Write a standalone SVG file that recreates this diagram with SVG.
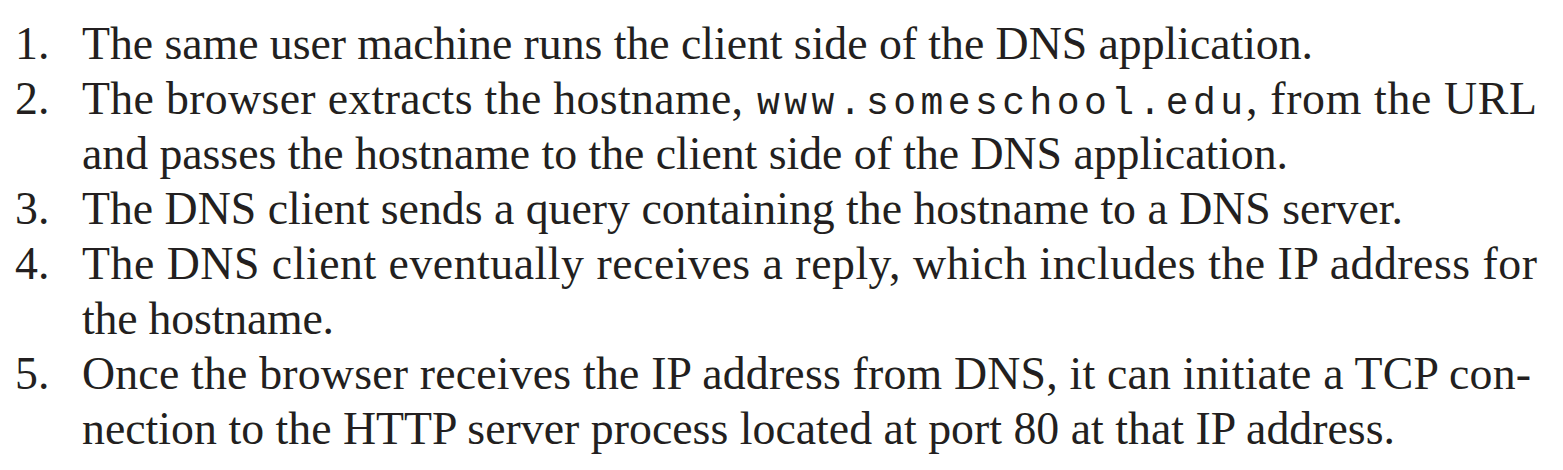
<svg xmlns="http://www.w3.org/2000/svg" width="1563" height="470" viewBox="0 0 1563 470">
  <style>
    .t { font-family: "Liberation Serif", "Times New Roman", serif; font-size: 45.8px; fill: #231f20; }
    .m { font-family: "Liberation Mono", "Courier New", monospace; font-size: 38px; fill: #231f20; }
  </style>
  <rect x="0" y="0" width="1563" height="470" fill="#ffffff"/>
  <g id="item1">
    <text class="t" x="15" y="59">1.</text>
    <text class="t" x="82" y="59" textLength="1231" lengthAdjust="spacing">The same user machine runs the client side of the DNS application.</text>
  </g>
  <g id="item2">
    <text class="t" x="15" y="114">2.</text>
    <text class="t" x="82" y="114" textLength="661" lengthAdjust="spacing">The browser extracts the hostname,</text>
    <text class="m" x="757" y="114" textLength="486" lengthAdjust="spacing">www.someschool.edu</text>
    <text class="t" x="1246" y="114" textLength="291" lengthAdjust="spacing">, from the URL</text>
    <text class="t" x="82" y="169" textLength="1206" lengthAdjust="spacing">and passes the hostname to the client side of the DNS application.</text>
  </g>
  <g id="item3">
    <text class="t" x="15" y="224">3.</text>
    <text class="t" x="82" y="224" textLength="1321" lengthAdjust="spacing">The DNS client sends a query containing the hostname to a DNS server.</text>
  </g>
  <g id="item4">
    <text class="t" x="15" y="279">4.</text>
    <text class="t" x="82" y="279" textLength="1455" lengthAdjust="spacing">The DNS client eventually receives a reply, which includes the IP address for</text>
    <text class="t" x="82" y="334" textLength="252" lengthAdjust="spacing">the hostname.</text>
  </g>
  <g id="item5">
    <text class="t" x="15" y="389">5.</text>
    <text class="t" x="82" y="389" textLength="1449" lengthAdjust="spacing">Once the browser receives the IP address from DNS, it can initiate a TCP con-</text>
    <text class="t" x="82" y="444" textLength="1313" lengthAdjust="spacing">nection to the HTTP server process located at port 80 at that IP address.</text>
  </g>
</svg>
